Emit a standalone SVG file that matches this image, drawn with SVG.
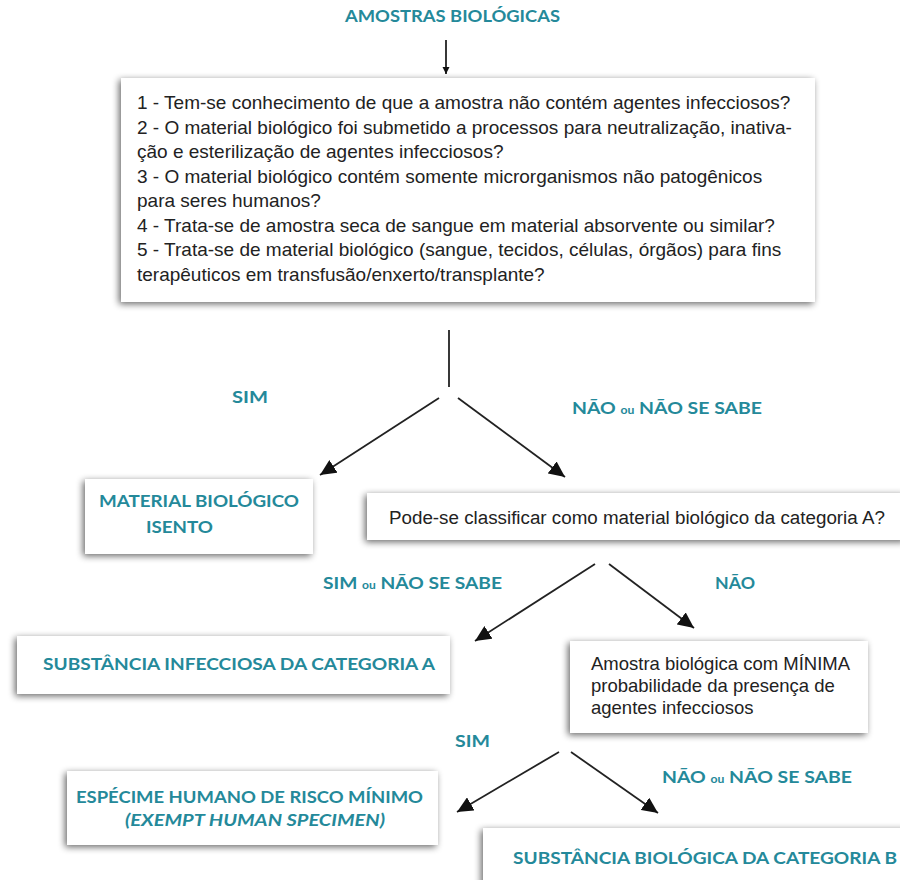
<svg xmlns="http://www.w3.org/2000/svg" width="900" height="880" viewBox="0 0 900 880">
<style>
.box{fill:#fff;filter:url(#sh)}
.t{font-family:"Liberation Sans",Arial,sans-serif;fill:#222;}
.q{font-size:19px}
.lab{font-family:Lato,"Open Sans",sans-serif;font-weight:700;fill:#24899a;font-size:17.5px}
.ou{font-size:11px}
.c{stroke:#222;stroke-width:1.8;fill:none}
</style>
<defs>
<filter id="sh" x="-10%" y="-20%" width="120%" height="150%">
<feGaussianBlur in="SourceAlpha" stdDeviation="3.5"/>
<feOffset dx="-2" dy="2" result="b"/>
<feComponentTransfer><feFuncA type="linear" slope="0.6"/></feComponentTransfer>
<feMerge><feMergeNode/><feMergeNode in="SourceGraphic"/></feMerge>
</filter>
<marker id="ah" markerUnits="userSpaceOnUse" markerWidth="17" markerHeight="15" refX="16" refY="7.5" orient="auto">
<path d="M0,0 L16,7.5 L0,15 Z" fill="#111"/>
</marker>
<marker id="ahs" markerUnits="userSpaceOnUse" markerWidth="8" markerHeight="8" refX="7" refY="3.5" orient="auto">
<path d="M0,0 L7,3.5 L0,7 Z" fill="#111"/>
</marker>
</defs>

<g id="title">
<text class="lab" x="345" y="22" textLength="215" lengthAdjust="spacingAndGlyphs">AMOSTRAS BIOLÓGICAS</text>
</g>

<g id="questions">
<rect class="box" x="121" y="78" width="694" height="224"/>
<text class="t q" x="137" y="109">1 - Tem-se conhecimento de que a amostra não contém agentes infecciosos?</text>
<text class="t q" x="137" y="134">2 - O material biológico foi submetido a processos para neutralização, inativa-</text>
<text class="t q" x="137" y="158">ção e esterilização de agentes infecciosos?</text>
<text class="t q" x="137" y="183">3 - O material biológico contém somente microrganismos não patogênicos</text>
<text class="t q" x="137" y="207">para seres humanos?</text>
<text class="t q" x="137" y="232">4 - Trata-se de amostra seca de sangue em material absorvente ou similar?</text>
<text class="t q" x="137" y="256">5 - Trata-se de material biológico (sangue, tecidos, células, órgãos) para fins</text>
<text class="t q" x="137" y="281">terapêuticos em transfusão/enxerto/transplante?</text>
</g>

<g id="isento">
<rect class="box" x="85" y="479" width="228" height="75"/>
<text class="lab" x="99" y="507" textLength="200" lengthAdjust="spacingAndGlyphs">MATERIAL BIOLÓGICO</text>
<text class="lab" x="146" y="533" textLength="67" lengthAdjust="spacingAndGlyphs">ISENTO</text>
</g>

<g id="catA-question">
<rect class="box" x="367" y="493" width="540" height="47"/>
<text class="t" x="389" y="524" font-size="18.8">Pode-se classificar como material biológico da categoria A?</text>
</g>

<g id="catA">
<rect class="box" x="17" y="636" width="433" height="58"/>
<text class="lab" x="43" y="670" textLength="392" lengthAdjust="spacingAndGlyphs">SUBSTÂNCIA INFECCIOSA DA CATEGORIA A</text>
</g>

<g id="minima">
<rect class="box" x="570" y="641" width="298" height="92"/>
<text class="t" x="591" y="670" font-size="18.5">Amostra biológica com MÍNIMA</text>
<text class="t" x="591" y="692" font-size="18.5">probabilidade da presença de</text>
<text class="t" x="591" y="714" font-size="18.5">agentes infecciosos</text>
</g>

<g id="exempt">
<rect class="box" x="67" y="771" width="371" height="74"/>
<text class="lab" x="76" y="803" textLength="347" lengthAdjust="spacingAndGlyphs">ESPÉCIME HUMANO DE RISCO MÍNIMO</text>
<text class="lab" x="125" y="826" font-style="italic" font-weight="400" textLength="260" lengthAdjust="spacingAndGlyphs">(EXEMPT HUMAN SPECIMEN)</text>
</g>

<g id="catB">
<rect class="box" x="483" y="828" width="430" height="70"/>
<text class="lab" x="513" y="864" textLength="384" lengthAdjust="spacingAndGlyphs">SUBSTÂNCIA BIOLÓGICA DA CATEGORIA B</text>
</g>

<g id="labels">
<text class="lab" x="232" y="403" textLength="36" lengthAdjust="spacingAndGlyphs">SIM</text>
<text class="lab" x="572" y="414" textLength="190" lengthAdjust="spacingAndGlyphs">NÃO <tspan class="ou">ou</tspan> NÃO SE SABE</text>
<text class="lab" x="323" y="589" textLength="179" lengthAdjust="spacingAndGlyphs">SIM <tspan class="ou">ou</tspan> NÃO SE SABE</text>
<text class="lab" x="715" y="589" textLength="40" lengthAdjust="spacingAndGlyphs">NÃO</text>
<text class="lab" x="455" y="747" textLength="35" lengthAdjust="spacingAndGlyphs">SIM</text>
<text class="lab" x="662" y="783" textLength="190" lengthAdjust="spacingAndGlyphs">NÃO <tspan class="ou">ou</tspan> NÃO SE SABE</text>
</g>

<g id="connectors">
<line class="c" x1="446" y1="40" x2="446" y2="74" stroke-width="1.5" marker-end="url(#ahs)"/>
<line class="c" x1="449" y1="330" x2="449" y2="387"/>
<line class="c" x1="439" y1="398" x2="320" y2="475" marker-end="url(#ah)"/>
<line class="c" x1="458" y1="398" x2="565" y2="477" marker-end="url(#ah)"/>
<line class="c" x1="595" y1="564" x2="475" y2="641" marker-end="url(#ah)"/>
<line class="c" x1="609" y1="564" x2="694" y2="628" marker-end="url(#ah)"/>
<line class="c" x1="559" y1="752" x2="457" y2="812" marker-end="url(#ah)"/>
<line class="c" x1="571" y1="752" x2="658" y2="813" marker-end="url(#ah)"/>
</g>
</svg>
